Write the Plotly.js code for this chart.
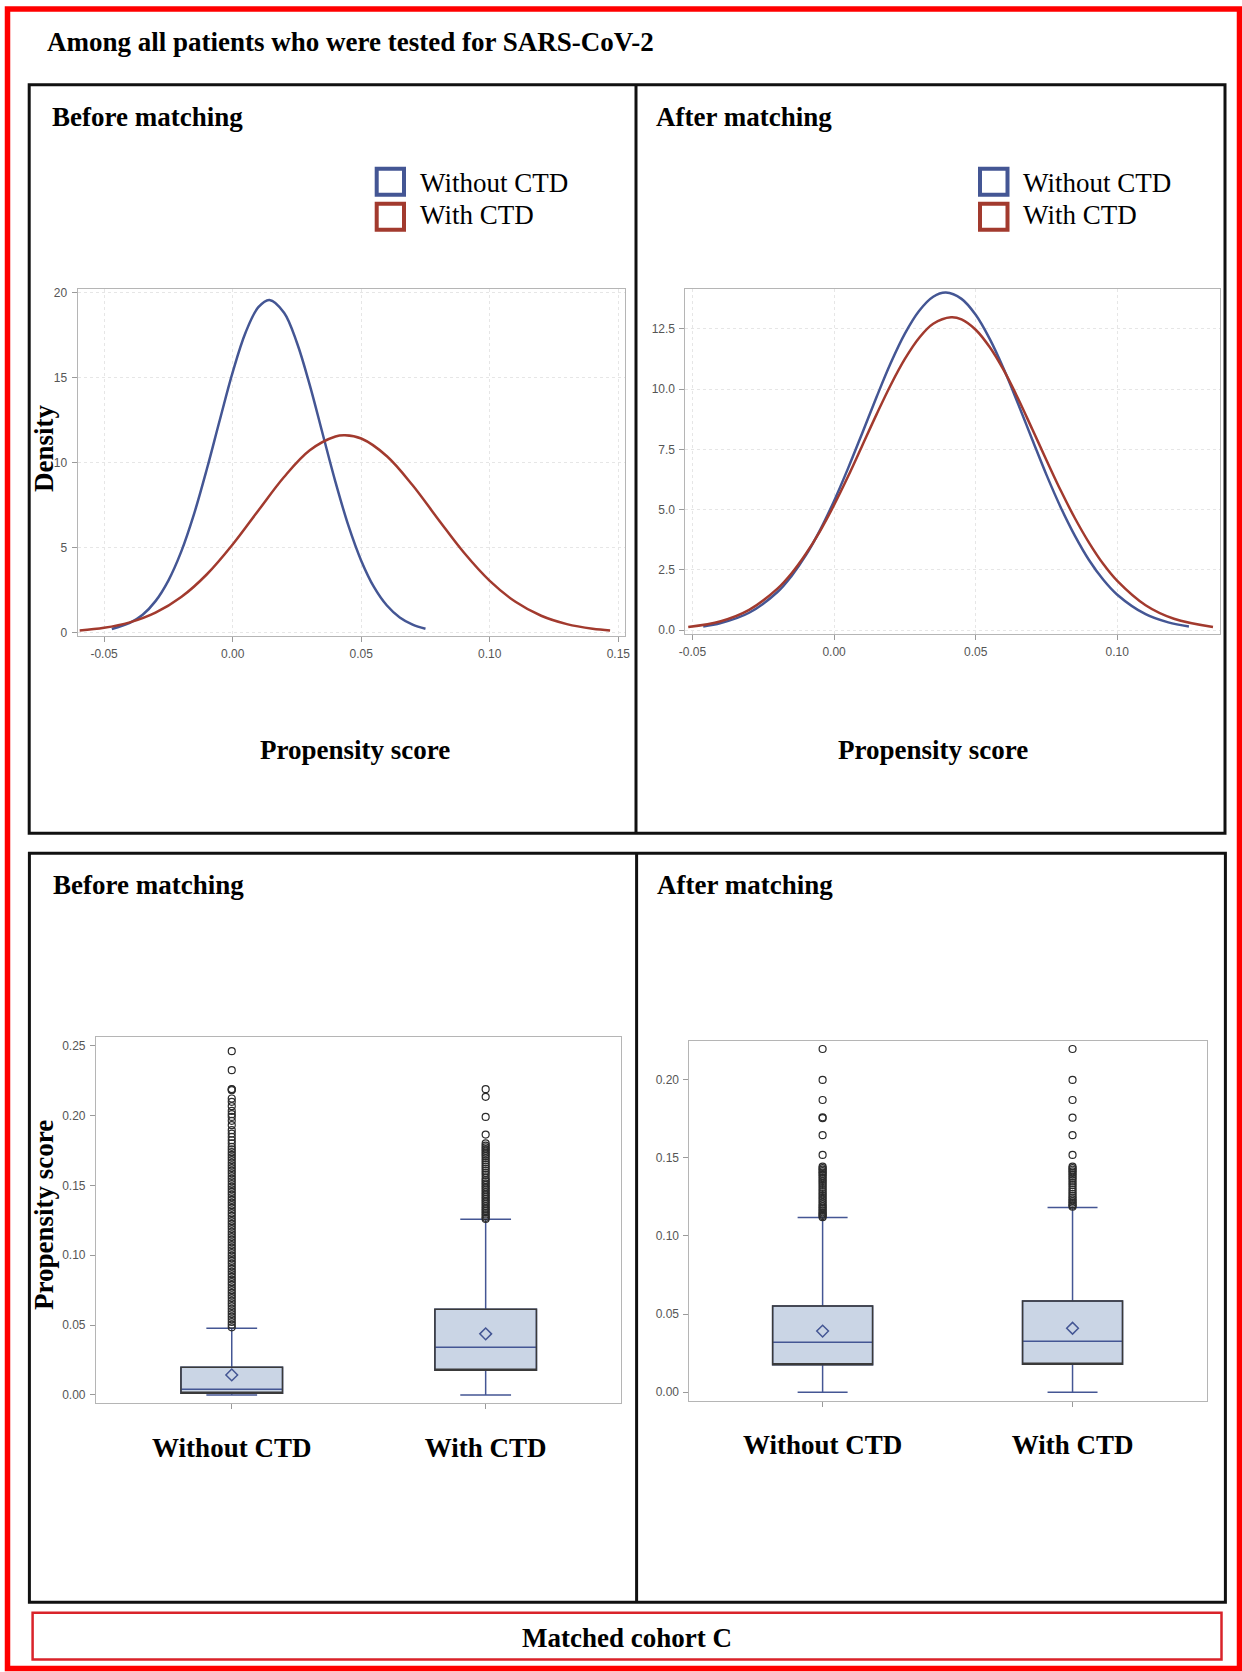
<!DOCTYPE html>
<html>
<head>
<meta charset="utf-8">
<script src="https://cdn.plot.ly/plotly-3.0.1.min.js"></script>
<style>
html,body{margin:0;padding:0;background:#ffffff;}
#chart{width:1242px;height:1672px;}
</style>
</head>
<body>
<div id="chart"></div>
<script>
// ---------------- DATA ----------------
const groups = ['Without CTD', 'With CTD'];

// Density curves, before matching
const beforeWithoutX = [-0.047,-0.040,-0.035,-0.030,-0.025,-0.020,-0.015,-0.010,-0.005,0.000,0.005,0.010,0.0143,0.020,0.025,0.030,0.035,0.040,0.045,0.050,0.055,0.060,0.065,0.070,0.075];
const beforeWithoutY = [0.21,0.57,1.05,1.85,3.06,4.76,6.98,9.63,12.50,15.30,17.63,19.13,19.56,18.81,17.04,14.55,11.69,8.85,6.30,4.23,2.67,1.59,0.89,0.47,0.23];
const beforeWithX = [-0.0595,-0.050,-0.040,-0.030,-0.020,-0.010,0.000,0.010,0.020,0.030,0.040,0.0437,0.050,0.060,0.070,0.080,0.090,0.100,0.110,0.120,0.130,0.140,0.1468];
const beforeWithY = [0.13,0.28,0.60,1.17,2.09,3.43,5.18,7.18,9.15,10.72,11.53,11.60,11.41,10.37,8.66,6.65,4.69,3.04,1.81,0.99,0.50,0.23,0.13];

// Density curves, after matching
const afterWithoutX = [-0.0462,-0.040,-0.030,-0.020,-0.015,-0.010,-0.005,0.000,0.005,0.010,0.015,0.020,0.025,0.030,0.035,0.0395,0.045,0.050,0.055,0.060,0.065,0.070,0.075,0.080,0.085,0.090,0.095,0.100,0.110,0.118,0.1253];
const afterWithoutY = [0.15,0.29,0.72,1.58,2.25,3.10,4.14,5.36,6.73,8.19,9.67,11.08,12.30,13.24,13.83,14.00,13.74,13.08,12.07,10.81,9.38,7.90,6.44,5.10,3.92,2.91,2.10,1.47,0.66,0.32,0.15];
const afterWithX = [-0.0515,-0.040,-0.030,-0.020,-0.015,-0.010,-0.005,0.000,0.005,0.010,0.015,0.020,0.025,0.030,0.035,0.0413,0.045,0.050,0.055,0.060,0.065,0.070,0.075,0.080,0.085,0.090,0.095,0.100,0.110,0.120,0.1338];
const afterWithY = [0.13,0.37,0.84,1.72,2.36,3.16,4.10,5.19,6.39,7.67,8.95,10.17,11.25,12.12,12.71,12.98,12.89,12.46,11.73,10.76,9.60,8.33,7.05,5.80,4.65,3.63,2.75,2.04,1.03,0.47,0.13];

// Tick labels
const densBeforeXTicks = [-0.05, 0, 0.05, 0.10, 0.15];
const densBeforeXText  = ['-0.05', '0.00', '0.05', '0.10', '0.15'];
const densBeforeYTicks = [0, 5, 10, 15, 20];
const densBeforeYText  = ['0', '5', '10', '15', '20'];
const densAfterXTicks  = [-0.05, 0, 0.05, 0.10];
const densAfterXText   = ['-0.05', '0.00', '0.05', '0.10'];
const densAfterYTicks  = [0, 2.5, 5, 7.5, 10, 12.5];
const densAfterYText   = ['0.0', '2.5', '5.0', '7.5', '10.0', '12.5'];
const boxBeforeYTicks  = [0, 0.05, 0.10, 0.15, 0.20, 0.25];
const boxBeforeYText   = ['0.00', '0.05', '0.10', '0.15', '0.20', '0.25'];
const boxAfterYTicks   = [0, 0.05, 0.10, 0.15, 0.20];
const boxAfterYText    = ['0.00', '0.05', '0.10', '0.15', '0.20'];

// Box plot statistics, before matching
const beforeLower  = [0.0000, 0.0000];
const beforeQ1     = [0.0012, 0.0177];
const beforeMedian = [0.0041, 0.0341];
const beforeQ3     = [0.0198, 0.0613];
const beforeUpper  = [0.0477, 0.1258];
const beforeMean   = [0.0143, 0.0437];

// Box plot statistics, after matching
const afterLower  = [0.0000, 0.0000];
const afterQ1     = [0.0175, 0.0179];
const afterMedian = [0.0319, 0.0326];
const afterQ3     = [0.0551, 0.0583];
const afterUpper  = [0.1117, 0.1181];
const afterMean   = [0.0391, 0.0409];

// Outliers
const beforeWithoutOut = [0.2461,0.2325,0.2190,0.2186,0.2181,0.2122,0.2098,0.2067,0.2033,0.2010,0.1990,0.1962,0.1931,0.1895,0.1871,0.1847,0.1823,0.1800,
  0.1776,0.1757,0.1738,0.1719,0.1700,0.1681,0.1662,0.1643,0.1624,0.1605,0.1586,0.1567,0.1548,0.1529,0.1510,0.1491,0.1472,0.1453,0.1434,0.1415,
  0.1396,0.1377,0.1358,0.1339,0.1320,0.1301,0.1282,0.1263,0.1244,0.1225,0.1206,0.1187,0.1168,0.1149,0.1130,0.1111,0.1092,0.1073,0.1054,0.1035,
  0.1016,0.0997,0.0978,0.0959,0.0940,0.0921,0.0902,0.0883,0.0864,0.0845,0.0826,0.0807,0.0788,0.0769,0.0750,0.0731,0.0712,0.0693,0.0674,0.0655,
  0.0636,0.0617,0.0598,0.0579,0.0560,0.0541,0.0522,0.0503,0.0484];
const beforeWithOut = [0.2189,0.2134,0.1990,0.1864,0.1800,0.1785,0.1772,0.1760,0.1748,0.1735,0.1722,0.1710,0.1695,0.1680,0.1665,0.1650,0.1635,
  0.1620,0.1605,0.1590,0.1575,0.1555,0.1540,0.1528,0.1515,0.1503,0.1490,0.1478,0.1465,0.1452,0.1440,0.1428,0.1415,0.1403,0.1390,0.1378,0.1365,
  0.1352,0.1340,0.1328,0.1316,0.1304,0.1292,0.1280,0.1268,0.1260];
const afterWithoutOut = [0.2194,0.1996,0.1868,0.1757,0.1752,0.1643,0.1517,0.1442,0.1432,0.1423,0.1413,0.1404,0.1395,0.1385,0.1374,0.1362,0.1350,
  0.1338,0.1325,0.1312,0.1298,0.1285,0.1272,0.1260,0.1248,0.1236,0.1224,0.1212,0.1200,0.1190,0.1180,0.1170,0.1160,0.1150,0.1142,0.1134,0.1126,0.1119];
const afterWithOut = [0.2194,0.1996,0.1868,0.1755,0.1643,0.1517,0.1442,0.1432,0.1422,0.1412,0.1402,0.1390,0.1378,0.1366,0.1352,0.1338,0.1324,
  0.1310,0.1296,0.1282,0.1268,0.1255,0.1243,0.1232,0.1222,0.1212,0.1202,0.1193,0.1186];

// ---------------- STYLE ----------------
const W = 1242, H = 1672;
const BLUE = '#445694', RED = '#a23a2e';
const SERIF = 'Liberation Serif, Times New Roman, serif';
const SANS = 'Liberation Sans, Arial, sans-serif';
const px = v => v / W;
const py = v => 1 - v / H;

function densTrace(x, y, color, xa, ya, name) {
  return {type: 'scatter', mode: 'lines', x: x, y: y, name: name, xaxis: xa, yaxis: ya,
    line: {color: color, width: 2.5, shape: 'spline', smoothing: 1}, hoverinfo: 'skip'};
}
function boxTraces(xa, ya, lo, q1, med, q3, up, mean, outA, outB) {
  return [
    {type: 'box', xaxis: xa, yaxis: ya, x: groups, q1: q1, median: med, q3: q3,
      lowerfence: lo, upperfence: up, boxpoints: false, width: 0.4, whiskerwidth: 0.5,
      fillcolor: '#cad5e5', line: {color: BLUE, width: 1.5}, hoverinfo: 'skip', name: 'box'},
    {type: 'box', xaxis: xa, yaxis: ya, x: groups, q1: q1, median: q1, q3: q3,
      lowerfence: q1, upperfence: q3, boxpoints: false, width: 0.4, whiskerwidth: 0,
      fillcolor: 'rgba(0,0,0,0)', line: {color: '#3a3a3a', width: 1.5}, hoverinfo: 'skip', name: 'outline'},
    {type: 'scatter', mode: 'markers', xaxis: xa, yaxis: ya,
      x: outA.map(() => groups[0]).concat(outB.map(() => groups[1])), y: outA.concat(outB),
      marker: {symbol: 'circle-open', size: 7, color: '#2b2b2b', line: {width: 1.2, color: '#2b2b2b'}},
      hoverinfo: 'skip', name: 'outliers'},
    {type: 'scatter', mode: 'markers', xaxis: xa, yaxis: ya, x: groups, y: mean,
      marker: {symbol: 'diamond-open', size: 9, color: BLUE, line: {width: 1.5, color: BLUE}},
      hoverinfo: 'skip', name: 'mean'}
  ];
}

const traces = [
  densTrace(beforeWithoutX, beforeWithoutY, BLUE, 'x', 'y', 'Without CTD'),
  densTrace(beforeWithX, beforeWithY, RED, 'x', 'y', 'With CTD'),
  densTrace(afterWithoutX, afterWithoutY, BLUE, 'x2', 'y2', 'Without CTD'),
  densTrace(afterWithX, afterWithY, RED, 'x2', 'y2', 'With CTD')
].concat(
  boxTraces('x3', 'y3', beforeLower, beforeQ1, beforeMedian, beforeQ3, beforeUpper, beforeMean, beforeWithoutOut, beforeWithOut),
  boxTraces('x4', 'y4', afterLower, afterQ1, afterMedian, afterQ3, afterUpper, afterMean, afterWithoutOut, afterWithOut)
);

const baseAxis = {
  showline: true, mirror: true, linecolor: '#b5b5b5', linewidth: 1, zeroline: false,
  ticks: 'outside', ticklen: 5, tickcolor: '#9a9a9a', tickwidth: 1,
  tickfont: {family: SANS, size: 12, color: '#555555'}, fixedrange: true
};
const gridOn = {showgrid: true, gridcolor: '#e6e6e6', gridwidth: 1, griddash: 'dot'};

function ax(extra) { return Object.assign({}, baseAxis, extra); }

const layout = {
  width: W, height: H, margin: {l: 0, r: 0, t: 0, b: 0},
  paper_bgcolor: '#ffffff', plot_bgcolor: '#ffffff',
  showlegend: false, hovermode: false, boxmode: 'overlay',
  font: {family: SANS},
  xaxis: ax(Object.assign({domain: [px(77.6), px(624.5)], range: [-0.0603, 0.1524], anchor: 'y',
    tickmode: 'array', tickvals: densBeforeXTicks, ticktext: densBeforeXText, ticklabelstandoff: 2}, gridOn)),
  yaxis: ax(Object.assign({domain: [py(636), py(289)], range: [-0.2, 20.2], anchor: 'x',
    tickmode: 'array', tickvals: densBeforeYTicks, ticktext: densBeforeYText, ticklabelstandoff: 2}, gridOn)),
  xaxis2: ax(Object.assign({domain: [px(685.4), px(1219.8)], range: [-0.0525, 0.1362], anchor: 'y2',
    tickmode: 'array', tickvals: densAfterXTicks, ticktext: densAfterXText, ticklabelstandoff: 2}, gridOn)),
  yaxis2: ax(Object.assign({domain: [py(633.5), py(289)], range: [-0.14, 14.15], anchor: 'x2',
    tickmode: 'array', tickvals: densAfterYTicks, ticktext: densAfterYText, ticklabelstandoff: 2}, gridOn)),
  xaxis3: ax({domain: [px(95.9), px(621)], type: 'category', categoryorder: 'array', categoryarray: groups,
    range: [-0.535, 1.533], anchor: 'y3', showgrid: false, ticklabelstandoff: 15,
    tickfont: {family: SERIF, size: 27, color: '#000000', weight: 'bold'}}),
  yaxis3: ax({domain: [py(1403.3), py(1037.3)], range: [-0.006, 0.256], anchor: 'x3', showgrid: false,
    tickmode: 'array', tickvals: boxBeforeYTicks, ticktext: boxBeforeYText, ticklabelstandoff: 2}),
  xaxis4: ax({domain: [px(689.4), px(1207)], type: 'category', categoryorder: 'array', categoryarray: groups,
    range: [-0.533, 1.538], anchor: 'y4', showgrid: false, ticklabelstandoff: 15,
    tickfont: {family: SERIF, size: 27, color: '#000000', weight: 'bold'}}),
  yaxis4: ax({domain: [py(1400.7), py(1041)], range: [-0.0054, 0.2245], anchor: 'x4', showgrid: false,
    tickmode: 'array', tickvals: boxAfterYTicks, ticktext: boxAfterYText, ticklabelstandoff: 2}),
  shapes: [],
  annotations: []
};

function rect(x0, y0, x1, y1, color, width) {
  layout.shapes.push({type: 'rect', xref: 'paper', yref: 'paper', x0: px(x0), x1: px(x1), y0: py(y0), y1: py(y1),
    line: {color: color, width: width}, fillcolor: 'rgba(0,0,0,0)', layer: 'above'});
}
function vline(x, y0, y1, color, width) {
  layout.shapes.push({type: 'line', xref: 'paper', yref: 'paper', x0: px(x), x1: px(x), y0: py(y0), y1: py(y1),
    line: {color: color, width: width}, layer: 'above'});
}
function text(t, x, y, opts) {
  opts = opts || {};
  layout.annotations.push({
    text: t, xref: 'paper', yref: 'paper', x: px(x), y: py(y), showarrow: false,
    xanchor: opts.xanchor || 'left', yanchor: 'middle', textangle: opts.angle || 0,
    font: {family: SERIF, size: opts.size || 27, color: '#000000', weight: opts.weight || 'bold'}
  });
}

// Outer red frame
rect(7.5, 9, 1239.5, 1668.5, '#ff0000', 5.5);
// Top panels
rect(29.2, 84.7, 1225, 833.3, '#111111', 3);
vline(636, 84.7, 833.3, '#111111', 3);
// Bottom panels
rect(29.4, 853.3, 1225.4, 1602.3, '#111111', 3);
vline(636.6, 853.3, 1602.3, '#111111', 3);
// Footer box
rect(32.6, 1612.8, 1221.5, 1659.4, '#d9232a', 2.5);

// Legend keys
rect(376.7, 168.7, 404, 194.7, BLUE, 4);
rect(376.7, 203.7, 404, 229.7, RED, 4);
rect(980, 168.7, 1007.5, 194.7, BLUE, 4);
rect(980, 203.7, 1007.5, 229.7, RED, 4);

// Texts
text('Among all patients who were tested for SARS-CoV-2', 45, 41.5);
text('Before matching', 50, 117);
text('After matching', 654, 117);
text('Before matching', 51, 885);
text('After matching', 655, 885);
text('Without CTD', 418, 183, {weight: 'normal'});
text('With CTD', 418, 215, {weight: 'normal'});
text('Without CTD', 1021.4, 183, {weight: 'normal'});
text('With CTD', 1021.4, 215, {weight: 'normal'});
text('Propensity score', 355, 749.5, {xanchor: 'center'});
text('Propensity score', 933, 749.5, {xanchor: 'center'});
text('Density', 44, 449, {xanchor: 'center', angle: -90});
text('Propensity score', 44, 1215, {xanchor: 'center', angle: -90});
text('Matched cohort C', 626.7, 1637.5, {xanchor: 'center'});

Plotly.newPlot('chart', traces, layout, {staticPlot: true, displayModeBar: false});
</script>
</body>
</html>
